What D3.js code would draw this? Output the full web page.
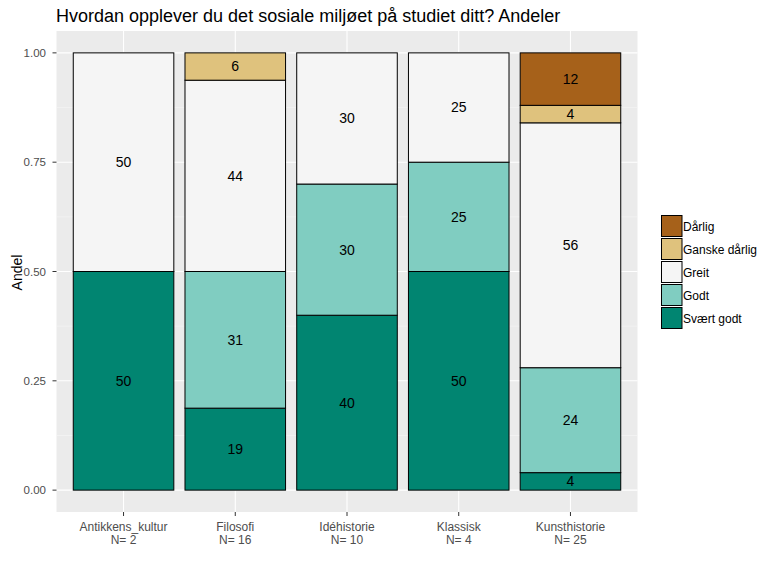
<!DOCTYPE html>
<html><head><meta charset="utf-8">
<script src="https://cdn.jsdelivr.net/npm/d3@7"></script>
<style>body{margin:0;background:#fff;} text{font-family:"Liberation Sans",Arial,sans-serif;}</style>
</head><body>
<svg id="c" width="782" height="571"></svg>
<script>
const categories = ["Antikkens_kultur","Filosofi","Idéhistorie","Klassisk","Kunsthistorie"];
const nLabels = ["N= 2","N= 16","N= 10","N= 4","N= 25"];
const responses = ["Svært godt","Godt","Greit","Ganske dårlig","Dårlig"]; // bottom to top
const svaertGodt   = [1, 3, 4, 2, 1];
const godt         = [0, 5, 3, 1, 6];
const greit        = [1, 7, 3, 1, 14];
const ganskeDarlig = [0, 1, 0, 0, 1];
const darlig       = [0, 0, 0, 0, 3];
const yTicks = [0, 0.25, 0.5, 0.75, 1];
const colors = {"Dårlig":"#a6611a","Ganske dårlig":"#dfc27d","Greit":"#f5f5f5","Godt":"#80cdc1","Svært godt":"#018571"};
const legendOrder = ["Dårlig","Ganske dårlig","Greit","Godt","Svært godt"];

const seriesCounts = {"Svært godt":svaertGodt,"Godt":godt,"Greit":greit,"Ganske dårlig":ganskeDarlig,"Dårlig":darlig};
const rows = categories.map((c,i)=>{
  const r={cat:c};
  let tot=0; responses.forEach(k=>tot+=seriesCounts[k][i]);
  responses.forEach(k=>r[k]=seriesCounts[k][i]/tot);
  return r;
});
const stacked = d3.stack().keys(responses)(rows);

const svg = d3.select("#c");
const L=56.5, R=637.5, T=31, B=512;
const y = d3.scaleLinear().domain([-0.05,1.05]).range([B,T]);
const x = d3.scalePoint().domain(categories).range([L,R]).padding(0.6);
const step = x.step();
const cx = d=>x(d);
const bw = step*0.9;

svg.append("rect").attr("x",L).attr("y",T).attr("width",R-L).attr("height",B-T).attr("fill","#ebebeb");
// minor grid
[0.125,0.375,0.625,0.875].forEach(v=>{
  svg.append("line").attr("x1",L).attr("x2",R).attr("y1",y(v)).attr("y2",y(v)).attr("stroke","#f5f5f5").attr("stroke-width",0.6);
});
yTicks.forEach(v=>{
  svg.append("line").attr("x1",L).attr("x2",R).attr("y1",y(v)).attr("y2",y(v)).attr("stroke","#fff").attr("stroke-width",1.1);
});
categories.forEach(c=>{
  svg.append("line").attr("x1",cx(c)).attr("x2",cx(c)).attr("y1",T).attr("y2",B).attr("stroke","#fff").attr("stroke-width",1.1);
});

// bars
const g = svg.append("g");
stacked.forEach(s=>{
  s.forEach((d,i)=>{
    if(d[1]-d[0]<=0) return;
    g.append("rect").attr("x",cx(categories[i])-bw/2).attr("width",bw)
      .attr("y",y(d[1])).attr("height",y(d[0])-y(d[1]))
      .attr("fill",colors[s.key]).attr("stroke","#000").attr("stroke-width",1);
  });
});
stacked.forEach(s=>{
  s.forEach((d,i)=>{
    const v=d[1]-d[0];
    if(v<=0) return;
    g.append("text").attr("x",cx(categories[i])).attr("y",y((d[0]+d[1])/2)).attr("dy","0.35em")
      .attr("text-anchor","middle").attr("font-size",14).attr("fill","#000").text(Math.round(v*100));
  });
});

// y axis
yTicks.forEach(v=>{
  svg.append("line").attr("x1",L-4).attr("x2",L).attr("y1",y(v)).attr("y2",y(v)).attr("stroke","#333").attr("stroke-width",1);
  svg.append("text").attr("x",46).attr("y",y(v)).attr("dy","0.35em").attr("text-anchor","end")
    .attr("font-size",11.5).attr("fill","#4d4d4d").text(d3.format(".2f")(v));
});
// x axis
categories.forEach((c,i)=>{
  svg.append("line").attr("x1",cx(c)).attr("x2",cx(c)).attr("y1",B).attr("y2",B+4).attr("stroke","#333");
  svg.append("text").attr("x",cx(c)).attr("y",531).attr("text-anchor","middle").attr("font-size",12).attr("fill","#4d4d4d").text(c);
  svg.append("text").attr("x",cx(c)).attr("y",543.5).attr("text-anchor","middle").attr("font-size",12).attr("fill","#4d4d4d").text(nLabels[i]);
});
svg.append("text").attr("transform",`translate(22,${(T+B)/2+1}) rotate(-90)`).attr("text-anchor","middle")
  .attr("font-size",14).attr("fill","#000").text("Andel");
svg.append("text").attr("x",56).attr("y",22).attr("font-size",18).attr("fill","#000")
  .text("Hvordan opplever du det sosiale miljøet på studiet ditt? Andeler");

// legend
legendOrder.forEach((k,i)=>{
  const yy=215+i*23;
  svg.append("rect").attr("x",661.5).attr("y",yy+0.5).attr("width",20.5).attr("height",21).attr("fill",colors[k]).attr("stroke","#000");
  svg.append("text").attr("x",683).attr("y",yy+11.5).attr("dy","0.35em").attr("font-size",12).attr("fill","#000").text(k);
});
</script>
</body></html>
